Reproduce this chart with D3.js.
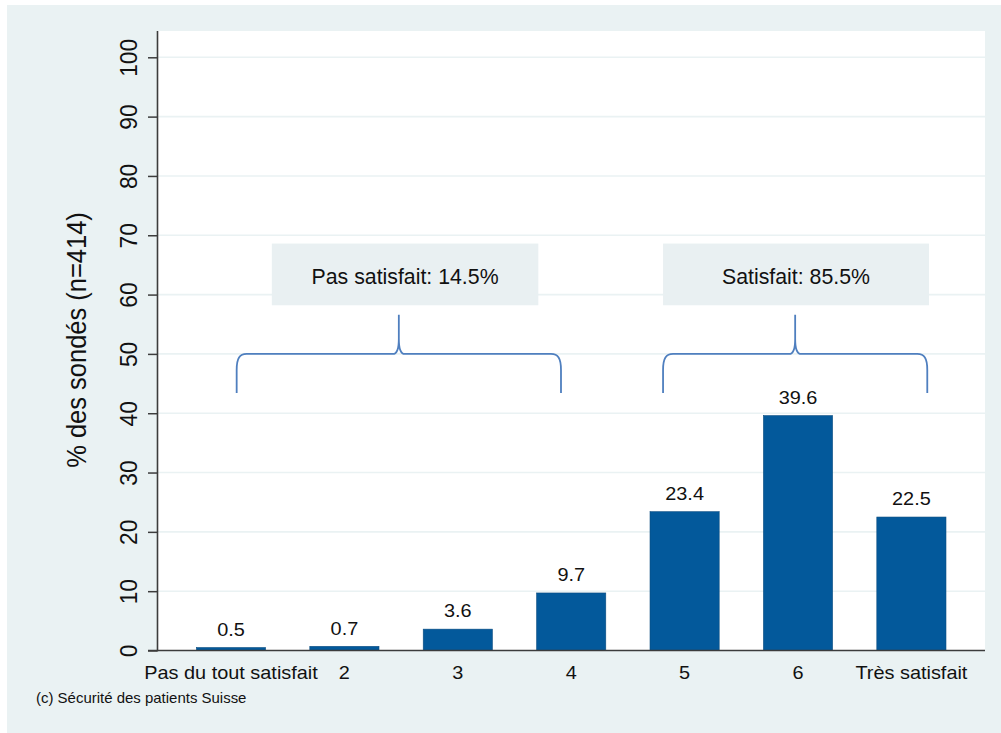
<!DOCTYPE html>
<html lang="fr">
<head>
<meta charset="utf-8">
<title>Satisfaction des sondés</title>
<script src="https://cdn.jsdelivr.net/npm/d3@7"></script>
<style>
  html, body { margin: 0; padding: 0; background: #ffffff; }
  svg { display: block; font-family: "Liberation Sans", Arial, Helvetica, sans-serif; }
</style>
</head>
<body>
<svg id="chart" width="1001" height="733"></svg>
<script>
// Survey answers on a 7-point satisfaction scale
const categories = ["Pas du tout satisfait", "2", "3", "4", "5", "6", "Très satisfait"];
const percentages = [0.5, 0.7, 3.6, 9.7, 23.4, 39.6, 22.5];
const yTicks = [0, 10, 20, 30, 40, 50, 60, 70, 80, 90, 100];
const yTitle = "% des sondés (n=414)";
const footnote = "(c) Sécurité des patients Suisse";

// Two summary groups: answers 1–4 and answers 5–7
const groupNames = ["Pas satisfait", "Satisfait"];
const groupFirst = [0, 4];
const groupLast = [3, 6];

// Layout
const W = 1001, H = 733;
const plot = { left: 157.5, right: 985, top: 31, bottom: 650.5 };
const SX = 1.07;              // horizontal stretch applied to chart text
const BG = "#eaf2f3";
const BAR = "#03599b";
const AXIS = "#3c3c3c";
const BRACE = "#4f7fbf";

// Brace / label box placement, in category units and data units
const braceSpan = [[0.05, 2.91], [3.81, 6.14]];
const boxSpan = [[0.36, 2.71], [3.81, 6.155]];
const braceLevel = 50, braceFoot = 43.4, braceTip = 56.6;
const boxTop = 68.6, boxBottom = 58.2, boxTextBase = 61.8;

const svg = d3.select("#chart");

// outer panel
svg.append("rect").attr("x", 7).attr("y", 5)
  .attr("width", W - 7).attr("height", H - 5).attr("fill", BG);

// plot region
svg.append("rect")
  .attr("x", plot.left).attr("y", plot.top)
  .attr("width", plot.right - plot.left).attr("height", plot.bottom - plot.top)
  .attr("fill", "#ffffff");

const y = d3.scaleLinear().domain([0, 100]).range([plot.bottom, 57.3]);
const x = d3.scaleBand().domain(categories)
  .range([174.3, 968.1]).paddingInner(0.39).paddingOuter(0.195);
const pos = i => x(categories[0]) + x.bandwidth() / 2 + i * x.step();

// gridlines
svg.append("g").selectAll("line")
  .data(yTicks.filter(t => t > 0))
  .join("line")
  .attr("x1", plot.left).attr("x2", plot.right)
  .attr("y1", d => y(d)).attr("y2", d => y(d))
  .attr("stroke", BG).attr("stroke-width", 1.6);

// bars
svg.append("g").selectAll("rect")
  .data(percentages)
  .join("rect")
  .attr("x", (d, i) => x(categories[i]))
  .attr("width", x.bandwidth())
  .attr("y", d => y(d))
  .attr("height", d => y(0) - y(d))
  .attr("fill", BAR)
  .attr("stroke", "#0b4c80").attr("stroke-width", 0.6);

// value labels
svg.append("g").selectAll("text")
  .data(percentages)
  .join("text")
  .attr("transform", (d, i) => `translate(${pos(i)},${y(d) - 11.8}) scale(${SX},1)`)
  .attr("text-anchor", "middle")
  .attr("font-size", 18.6).attr("fill", "#111")
  .text(d => d.toFixed(1));

// y axis
const yAxis = svg.append("g")
  .attr("transform", `translate(${plot.left},0)`)
  .call(d3.axisLeft(y).tickValues(yTicks).tickSize(9.5).tickSizeOuter(0));
yAxis.select(".domain").remove();
yAxis.selectAll(".tick line").attr("stroke", AXIS).attr("stroke-width", 1.5);
yAxis.selectAll(".tick text")
  .attr("x", null).attr("dy", null)
  .attr("transform", `translate(-20.8,0) scale(${SX},1) rotate(-90)`)
  .attr("text-anchor", "middle")
  .attr("font-size", 22.8).attr("font-family", null).attr("fill", "#111");
svg.append("line")
  .attr("x1", plot.left).attr("x2", plot.left)
  .attr("y1", plot.top).attr("y2", plot.bottom + 0.75)
  .attr("stroke", AXIS).attr("stroke-width", 1.6);

// x axis
const xAxis = svg.append("g")
  .attr("transform", `translate(0,${plot.bottom})`)
  .call(d3.axisBottom(x).tickSize(0).tickSizeOuter(0));
xAxis.select(".domain").remove();
xAxis.selectAll(".tick text")
  .attr("y", null).attr("dy", null)
  .attr("transform", `translate(0,28.8) scale(${SX},1)`)
  .attr("text-anchor", "middle")
  .attr("font-size", 18.6).attr("font-family", null).attr("fill", "#111");
svg.append("line")
  .attr("x1", plot.left - 9.5).attr("x2", plot.right)
  .attr("y1", plot.bottom).attr("y2", plot.bottom)
  .attr("stroke", AXIS).attr("stroke-width", 1.6);

// y axis title
svg.append("text")
  .attr("transform", `translate(85.5,340) scale(${SX},1) rotate(-90)`)
  .attr("text-anchor", "middle")
  .attr("font-size", 25.5).attr("fill", "#111")
  .text(yTitle);

// footnote
svg.append("text")
  .attr("transform", `translate(36,703.3) scale(${SX},1)`)
  .attr("font-size", 14).attr("fill", "#111")
  .text(footnote);

// group braces with summary boxes
const groupTotals = groupNames.map((n, g) =>
  d3.sum(percentages.slice(groupFirst[g], groupLast[g] + 1)));

const bracePath = (x0, x1) => {
  const xm = (x0 + x1) / 2;
  const yh = y(braceLevel), yb = y(braceFoot), yt = y(braceTip);
  const p = d3.path();
  p.moveTo(x0, yb);
  p.lineTo(x0, yh + 16);
  p.bezierCurveTo(x0, yh + 4, x0 + 3, yh, x0 + 10, yh);
  p.lineTo(xm - 6, yh);
  p.bezierCurveTo(xm - 2, yh, xm, yh - 4, xm, yh - 15);
  p.lineTo(xm, yt);
  p.moveTo(xm, yh - 15);
  p.bezierCurveTo(xm, yh - 4, xm + 2, yh, xm + 6, yh);
  p.lineTo(x1 - 10, yh);
  p.bezierCurveTo(x1 - 3, yh, x1, yh + 4, x1, yh + 16);
  p.lineTo(x1, yb);
  return p.toString();
};

const groups = svg.append("g").selectAll("g")
  .data(groupNames)
  .join("g");

groups.append("path")
  .attr("d", (d, g) => bracePath(pos(braceSpan[g][0]), pos(braceSpan[g][1])))
  .attr("fill", "none").attr("stroke", BRACE).attr("stroke-width", 1.8);

groups.append("rect")
  .attr("x", (d, g) => pos(boxSpan[g][0]))
  .attr("width", (d, g) => pos(boxSpan[g][1]) - pos(boxSpan[g][0]))
  .attr("y", y(boxTop))
  .attr("height", y(boxBottom) - y(boxTop))
  .attr("fill", "#e9f0f2");

groups.append("text")
  .attr("x", (d, g) => (pos(boxSpan[g][0]) + pos(boxSpan[g][1])) / 2)
  .attr("y", y(boxTextBase))
  .attr("text-anchor", "middle")
  .attr("font-size", 21.3).attr("fill", "#111")
  .text((d, g) => `${d}: ${groupTotals[g].toFixed(1)}%`);
</script>
</body>
</html>
